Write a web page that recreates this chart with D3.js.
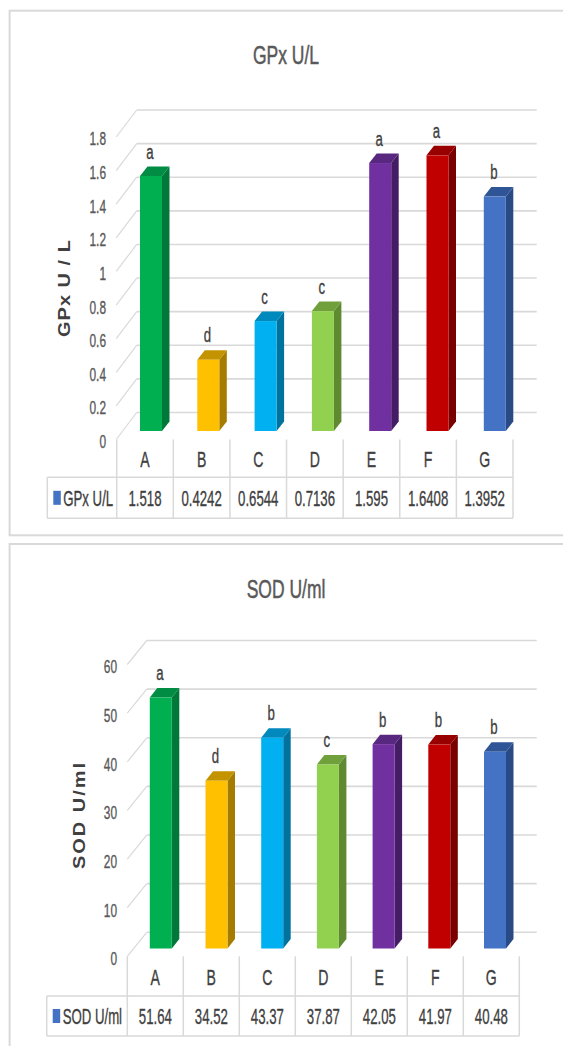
<!DOCTYPE html>
<html><head><meta charset="utf-8">
<script src="https://cdn.jsdelivr.net/npm/d3@7"></script>
<style>
html,body{margin:0;padding:0;background:#fff;}
svg{display:block;}
text{font-family:"Liberation Sans",Arial,sans-serif;}
</style></head>
<body>
<svg id="c" width="563" height="1046"></svg>
<script>
// ---------- data ----------
const categories = ["A","B","C","D","E","F","G"];
const gpxValues = [1.518, 0.4242, 0.6544, 0.7136, 1.595, 1.6408, 1.3952];
const gpxLetters = ["a","d","c","c","a","a","b"];
const gpxTicks = [0,0.2,0.4,0.6,0.8,1,1.2,1.4,1.6,1.8];
const sodValues = [51.64, 34.52, 43.37, 37.87, 42.05, 41.97, 40.48];
const sodLetters = ["a","d","b","c","b","b","b"];
const sodTicks = [0,10,20,30,40,50,60];
const frontColors = ["#00B050","#FFC000","#00B0F0","#92D050","#7030A0","#C00000","#4472C4"];
const sideColors  = ["#00783A","#A67C00","#00729E","#5F8A32","#451D64","#7A0000","#2A4A85"];
const topColors   = ["#008C42","#C49300","#0089BC","#70A03C","#582780","#980000","#2F5597"];

const svg = d3.select("#c");

function label(g, x, y, str, o){
  const fill = o.fill||"#404040";
  return g.append("text")
    .attr("transform", `translate(${x},${y}) scale(${o.sx||0.65},1)`)
    .attr("text-anchor", o.anchor||"middle")
    .attr("dy","0.36em")
    .attr("font-size", o.size)
    .attr("font-weight", o.weight||"normal")
    .attr("fill", fill)
    .attr("stroke", fill).attr("stroke-width", o.sw==null?0.35:o.sw)
    .text(str);
}

function drawChart(c){
  const g = svg.append("g");
  // panel border
  g.append("rect").attr("x",c.panel[0]).attr("y",c.panel[1])
    .attr("width",c.panel[2]).attr("height",c.panel[3])
    .attr("fill","none").attr("stroke","#d9d9d9").attr("stroke-width",2);
  // title
  label(g, c.titleX, c.titleY, c.title, {size:25, sx:0.7, fill:"#595959", sw:0.5});

  const yBack = d3.scaleLinear().domain(c.domain).range(c.backRange);
  const yFront = d3.scaleLinear().domain(c.domain).range(c.frontRange);
  const xTable = d3.scaleBand().domain(categories).range(c.tableRange);
  const xBar = d3.scaleBand().domain(categories).range(c.barRange);

  // gridlines + diagonal ticks
  c.ticks.forEach(t=>{
    const yb = yBack(t);
    g.append("line").attr("x1",c.wallX).attr("x2",c.wallEnd).attr("y1",yb).attr("y2",yb)
      .attr("stroke","#d9d9d9").attr("stroke-width",1.6);
    g.append("line").attr("x1",c.wallX - c.depthX).attr("y1",yb + c.depthY)
      .attr("x2",c.wallX).attr("y2",yb)
      .attr("stroke","#d9d9d9").attr("stroke-width",1.2);
    label(g, c.tickX, yb + c.labelDy, c.fmt(t), {size:18, sx:0.66, anchor:"end", fill:"#595959"});
  });

  // axis title
  g.append("text")
    .attr("transform", `translate(${c.axTitleX},${c.axTitleY}) scale(0.85,1) rotate(-90)`)
    .attr("text-anchor","middle").attr("dy","0.36em")
    .attr("font-size",20).attr("font-weight","bold")
    .attr("letter-spacing", c.axSpacing)
    .attr("fill","#404040").text(c.axTitle);

  // bars
  const w = 22, dx = 7.5, dy = -9.5;
  const base = yFront(0);
  c.values.forEach((v,i)=>{
    const cx = xBar(categories[i]) + xBar.bandwidth()/2;
    const x0 = cx - w/2, yt = yFront(v);
    g.append("polygon")
      .attr("points", [[x0+w,yt],[x0+w+dx,yt+dy],[x0+w+dx,base+dy],[x0+w,base]].map(p=>p.join(",")).join(" "))
      .attr("fill", sideColors[i]);
    g.append("polygon")
      .attr("points", [[x0,yt],[x0+dx,yt+dy],[x0+w+dx,yt+dy],[x0+w,yt]].map(p=>p.join(",")).join(" "))
      .attr("fill", topColors[i]);
    g.append("rect").attr("x",x0).attr("y",yt).attr("width",w).attr("height",base-yt)
      .attr("fill", frontColors[i]);
    label(g, cx - 1, yt + dy - 15, c.letters[i], {size:20, sx:0.66, fill:"#404040"});
  });

  // data table
  const floorY = yBack(0) + c.depthY;
  const bounds = categories.map(k=>xTable(k)).concat([c.tableRange[1]]);
  bounds.forEach(x=>{
    g.append("line").attr("x1",x).attr("x2",x).attr("y1",floorY).attr("y2",c.rowBottom)
      .attr("stroke","#d9d9d9").attr("stroke-width",1.5);
  });
  [c.rowTop, c.rowBottom].forEach(y=>{
    g.append("line").attr("x1",c.legendX).attr("x2",c.tableRange[1]).attr("y1",y).attr("y2",y)
      .attr("stroke","#d9d9d9").attr("stroke-width",1.5);
  });
  g.append("line").attr("x1",c.legendX).attr("x2",c.legendX).attr("y1",c.rowTop).attr("y2",c.rowBottom)
    .attr("stroke","#d9d9d9").attr("stroke-width",1.5);
  const hdrY = (floorY + c.rowTop)/2 + 1;
  const rowY = (c.rowTop + c.rowBottom)/2;
  categories.forEach((k,i)=>{
    const cx = xTable(k) + xTable.bandwidth()/2;
    label(g, cx, hdrY, k, {size:22, sx:0.64});
    label(g, cx, rowY, String(c.values[i]), {size:22, sx:0.6});
  });
  g.append("rect").attr("x",c.legendX+6).attr("y",rowY-7).attr("width",7.5).attr("height",14)
    .attr("fill","#4472C4");
  label(g, c.legendX+16, rowY, c.title, {size:22, sx:0.6, anchor:"start"});
}

drawChart({
  panel:[9.6,10.7,600,524.6],
  title:"GPx U/L", titleX:286, titleY:55,
  domain:[0,1.8], backRange:[412.5,110], frontRange:[431,431-302.4],
  ticks:gpxTicks, fmt:t=>String(+t.toFixed(1)),
  wallX:136.7, wallEnd:536.7, depthX:20.5, depthY:27,
  tickX:106, labelDy:29,
  axTitle:"GPx U / L", axTitleX:63.5, axTitleY:288, axSpacing:1,
  values:gpxValues, letters:gpxLetters,
  tableRange:[116.7,513], barRange:[122.35,523.45],
  rowTop:477.3, rowBottom:518.3, legendX:47.3
});

drawChart({
  panel:[9.6,544,600,520],
  title:"SOD U/ml", titleX:286, titleY:589,
  domain:[0,60], backRange:[932.3,640.5], frontRange:[948.5,948.5-291.6],
  ticks:sodTicks, fmt:t=>String(t),
  wallX:146.7, wallEnd:536.7, depthX:19.4, depthY:24,
  tickX:117, labelDy:26.5,
  axTitle:"SOD U/ml", axTitleX:79, axTitleY:815, axSpacing:2,
  values:sodValues, letters:sodLetters,
  tableRange:[127.3,519.3], barRange:[132.95,522.85],
  rowTop:996, rowBottom:1036, legendX:46.7
});
</script>
</body></html>
